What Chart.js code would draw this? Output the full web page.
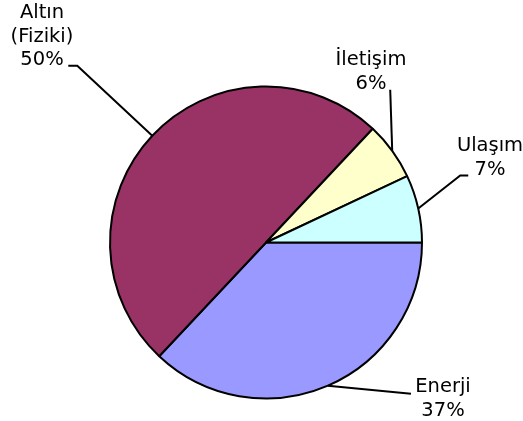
<!DOCTYPE html>
<html>
<head>
<meta charset="utf-8">
<script src="https://cdn.jsdelivr.net/npm/chart.js@4.4.0/dist/chart.umd.min.js"></script>
<style>
  html, body { margin: 0; padding: 0; background: #fff; }
  #wrap { width: 523px; height: 421px; }
</style>
</head>
<body>
<div id="wrap"><canvas id="pie" width="523" height="421"></canvas></div>
<script>
// Data (clockwise from 3 o'clock)
const categories = ['Enerji', 'Altın\n(Fiziki)', 'İletişim', 'Ulaşım'];
const shares = [37, 50, 6, 7];
const sliceColors = ['#9999FF', '#993366', '#FFFFCC', '#CCFFFF'];

// Label placement: elbow offset from the slice edge, tail length, text centre
const labelLayout = [
    { elbow: [83, 8], tail: 0, text: [443, 387] },
    { elbow: [-75, -70], tail: -9, text: [42, 13] },
    { elbow: [-2, -61], tail: 0, text: [371, 60] },
    { elbow: [42, -33], tail: 8, text: [490, 146] }
];

const leaderLabels = {
    id: 'leaderLabels',
    afterDatasetsDraw(chart) {
        const ctx = chart.ctx;
        const meta = chart.getDatasetMeta(0);
        ctx.save();
        ctx.strokeStyle = '#000';
        ctx.lineWidth = 2;
        ctx.fillStyle = '#000';
        ctx.font = '19.5px "DejaVu Sans", Verdana, sans-serif';
        ctx.textAlign = 'center';
        ctx.textBaseline = 'middle';
        meta.data.forEach((arc, i) => {
            const mid = (arc.startAngle + arc.endAngle) / 2;
            const sx = arc.x + Math.cos(mid) * arc.outerRadius;
            const sy = arc.y + Math.sin(mid) * arc.outerRadius;
            const lay = labelLayout[i];
            const ex = sx + lay.elbow[0];
            const ey = sy + lay.elbow[1];
            ctx.beginPath();
            ctx.moveTo(sx, sy);
            ctx.lineTo(ex, ey);
            if (lay.tail) ctx.lineTo(ex + lay.tail, ey);
            ctx.stroke();

            const lines = categories[i].split('\n');
            lines.push(shares[i] + '%');
            lines.forEach((t, k) => {
                ctx.fillText(t, lay.text[0], lay.text[1] + k * 23.5);
            });
        });
        ctx.restore();
    }
};

new Chart(document.getElementById('pie'), {
    type: 'pie',
    data: {
        labels: categories,
        datasets: [{
            data: shares,
            backgroundColor: sliceColors,
            borderColor: '#000',
            borderWidth: 2
        }]
    },
    options: {
        responsive: false,
        animation: false,
        rotation: 90,
        layout: { padding: { left: 109, right: 100, top: 85, bottom: 21 } },
        plugins: {
            legend: { display: false },
            tooltip: { enabled: false }
        }
    },
    plugins: [leaderLabels]
});
</script>
</body>
</html>
